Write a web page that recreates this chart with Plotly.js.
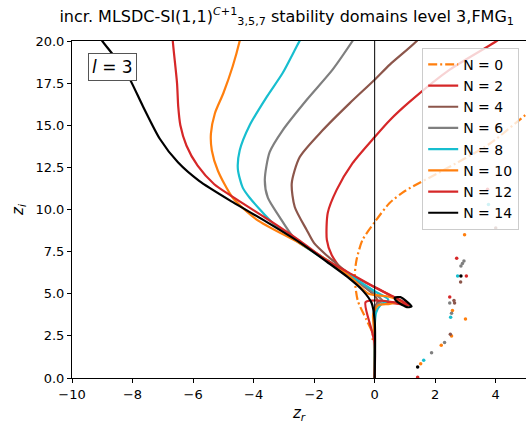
<!DOCTYPE html>
<html>
<head>
<meta charset="utf-8">
<script src="https://cdn.plot.ly/plotly-3.0.1.min.js"></script>
<style>html,body{margin:0;padding:0;background:#fff;}#chart{width:526px;height:425px;}</style>
</head>
<body>
<div id="chart"></div>
<script>
// Legend labels
const labels = ["N = 0", "N = 2", "N = 4", "N = 6", "N = 8", "N = 10", "N = 12", "N = 14"];
const colors = ["#ff7f0e", "#d62728", "#8c564b", "#7f7f7f", "#17becf", "#ff7f0e", "#d62728", "#000000"];

// Stability domain boundaries (z_r, z_i)
const n0_x = [5.3, 4.98, 3.8, 2.24, 1.0, 0.5, 0.0, -0.4, -0.6, -0.66, -0.56, -0.27, -0.07, -0.07];
const n0_y = [16.0, 15.6, 13.9, 12.3, 11.1, 10.4, 9.25, 8.2, 7.0, 6.0, 4.6, 3.45, 2.65, 2.25];

const n2_x = [4.4, 4.03, 2.48, 1.16, 0.5, 0.0, -0.73, -1.26, -1.55, -1.58, -1.42, -1.06, -0.4, 0.3, 0.75, 1.15, 0.6, 0.15, 0.02, 0.0, 0.0];
const n2_y = [20.5, 20.0, 18.3, 16.4, 15.3, 14.3, 12.75, 11.15, 9.8, 8.2, 7.3, 6.4, 5.75, 5.1, 4.65, 4.3, 4.45, 4.55, 4.2, 3.0, 0.0];

const n4_x = [1.6, 1.39, 0.5, 0.0, -0.83, -1.72, -2.48, -2.74, -2.64, -2.25, -2.0, -1.6, -1.0, -0.4, 0.0, 0.1, 0.0, 0.0];
const n4_y = [20.5, 20.0, 18.6, 17.7, 16.3, 14.7, 13.1, 11.55, 10.15, 8.8, 8.0, 7.3, 6.4, 5.5, 4.9, 4.5, 4.0, 0.0];

const n6_x = [-0.55, -0.73, -1.39, -2.25, -3.04, -3.47, -3.63, -3.53, -3.14, -2.7, -2.1, -1.4, -0.6, 0.0, 0.25, 0.05, 0.0, 0.0];
const n6_y = [20.5, 20.0, 18.3, 16.5, 14.7, 13.4, 11.75, 10.7, 9.55, 8.4, 7.6, 6.8, 5.8, 5.0, 4.6, 4.3, 3.5, 0.0];

const n8_x = [-2.3, -2.48, -3.04, -3.56, -4.13, -4.46, -4.52, -4.36, -4.13, -3.37, -2.48, -1.4, -0.6, 0.0, 0.45, 0.2, 0.05, 0.0, 0.0];
const n8_y = [20.5, 20.0, 18.1, 16.7, 15.0, 13.5, 12.4, 11.3, 10.7, 9.2, 8.0, 6.75, 5.85, 5.15, 4.65, 4.35, 3.9, 3.0, 0.0];

const n10_x = [-4.4, -4.46, -4.69, -5.0, -5.28, -5.41, -5.38, -5.18, -4.69, -3.9, -2.48, -1.5, -0.8, -0.2, 0.4, 0.9, 0.5, 0.1, -0.05, 0.0, 0.0];
const n10_y = [20.5, 20.0, 18.5, 16.9, 15.7, 14.5, 13.5, 12.3, 10.7, 9.4, 8.0, 6.9, 6.0, 5.0, 4.85, 4.55, 4.4, 4.3, 3.8, 2.5, 0.0];

const n12_x = [-6.68, -6.67, -6.53, -6.49, -6.42, -6.22, -5.85, -5.3, -4.69, -3.56, -2.48, -1.6, -0.9, 0.0, 0.6, 1.1, 0.6, 0.15, -0.3, -0.1, 0.0, 0.0];
const n12_y = [20.5, 20.0, 17.5, 16.1, 15.0, 13.8, 12.6, 11.5, 10.75, 9.45, 8.15, 7.0, 6.3, 5.4, 4.85, 4.35, 4.5, 4.6, 4.5, 2.85, 2.0, 0.0];

const n14_x = [-9.2, -9.0, -8.2, -7.65, -7.1, -6.5, -5.8, -4.7, -3.56, -2.48, -1.58, -0.9, -0.4, -0.1, 0.0, 0.0, null, 0.66, 0.85, 1.05, 1.22, 1.1, 0.9, 0.7, 0.66];
const n14_y = [20.5, 20.0, 18.1, 16.1, 14.2, 12.8, 11.7, 10.45, 9.25, 8.05, 6.9, 6.0, 5.2, 4.45, 3.4, 0.0, null, 4.75, 4.8, 4.55, 4.25, 4.2, 4.35, 4.6, 4.75];

// Isolated spurious points to the right
const dotsOrange_x = [2.97, 2.57, 3.0, 2.2, 1.52, 2.54];
const dotsOrange_y = [8.5, 4.0, 3.5, 1.95, 0.85, 2.5];
const dotsRed_x = [2.71, 2.48, 1.42, 3.03, 3.73];
const dotsRed_y = [7.1, 4.8, 0.05, 6.05, 11.2];
const dotsGray_x = [2.85, 2.9, 2.95, 2.48, 2.54, 2.31, 1.88];
const dotsGray_y = [6.65, 6.8, 6.95, 4.45, 3.85, 2.1, 1.5];
const dotsCyan_x = [2.74, 2.51, 1.62, 3.76];
const dotsCyan_y = [6.05, 3.6, 1.05, 10.3];
const dotsBrown_x = [2.84, 2.64, 2.5, 4.0, 2.62];
const dotsBrown_y = [5.7, 4.45, 2.6, 8.9, 4.6];
const dotsBlack_x = [2.85, 1.42];
const dotsBlack_y = [6.05, 0.65];

const xTicks = [-10, -8, -6, -4, -2, 0, 2, 4];
const yTicks = [0, 2.5, 5, 7.5, 10, 12.5, 15, 17.5, 20];

const curvesX = [n0_x, n2_x, n4_x, n6_x, n8_x, n10_x, n12_x, n14_x];
const curvesY = [n0_y, n2_y, n4_y, n6_y, n8_y, n10_y, n12_y, n14_y];

const traces = [];
for (let i = 0; i < labels.length; i++) {
  traces.push({
    x: curvesX[i], y: curvesY[i], name: labels[i], mode: 'lines', type: 'scatter',
    line: {color: colors[i], width: 2.2, shape: 'spline', smoothing: 0.7,
           dash: i === 0 ? '9px,3px,2px,3px' : 'solid'},
    connectgaps: false
  });
}
const dotSets = [
  [dotsOrange_x, dotsOrange_y, '#ff7f0e'],
  [dotsRed_x, dotsRed_y, '#d62728'],
  [dotsGray_x, dotsGray_y, '#7f7f7f'],
  [dotsCyan_x, dotsCyan_y, '#17becf'],
  [dotsBrown_x, dotsBrown_y, '#8c564b'],
  [dotsBlack_x, dotsBlack_y, '#000000']
];
dotSets.forEach(d => traces.push({
  x: d[0], y: d[1], mode: 'markers', type: 'scatter', showlegend: false,
  marker: {color: d[2], size: 3.5}
}));

const font = {family: 'DejaVu Sans, sans-serif', color: '#000'};
const layout = {
  width: 526, height: 425,
  margin: {l: 72, r: 0, t: 41, b: 47, pad: 0},
  paper_bgcolor: '#fff', plot_bgcolor: '#fff',
  font: Object.assign({size: 13}, font),
  title: {
    text: 'incr. MLSDC-SI(1,1)<sup><i>C</i>+1</sup><sub>3,5,7</sub> stability domains level 3,FMG<sub>1</sub>',
    font: Object.assign({size: 16}, font), x: 0.545, xanchor: 'center', y: 0.962, yanchor: 'middle'
  },
  xaxis: {
    range: [-10, 5], tickvals: xTicks, ticks: 'outside', ticklen: 4, tickcolor: '#000',
    showline: true, linecolor: '#000', linewidth: 1, mirror: true, showgrid: false, zeroline: false,
    tickfont: Object.assign({size: 13}, font),
    title: {text: '<i>z</i><sub><i>r</i></sub>', font: Object.assign({size: 15}, font), standoff: 6}
  },
  yaxis: {
    range: [0, 20], tickvals: yTicks, tickformat: '.1f', ticks: 'outside', ticklen: 4, tickcolor: '#000',
    showline: true, linecolor: '#000', linewidth: 1, showgrid: false, zeroline: false,
    tickfont: Object.assign({size: 13}, font),
    title: {text: '<i>z</i><sub><i>i</i></sub>', font: Object.assign({size: 15}, font), standoff: 8}
  },
  shapes: [{type: 'line', xref: 'x', yref: 'paper', x0: 0, x1: 0, y0: 0, y1: 1,
            line: {color: '#000', width: 1}, layer: 'above'}],
  annotations: [{
    xref: 'paper', yref: 'paper', x: 0.090, y: 0.923, xanchor: 'center', yanchor: 'middle',
    text: '<i>l</i> = 3', showarrow: false, font: Object.assign({size: 17}, font),
    bgcolor: '#fff', bordercolor: '#555', borderwidth: 1, borderpad: 3
  }],
  legend: {
    x: 0.985, y: 0.98, xanchor: 'right', yanchor: 'top',
    bgcolor: 'rgba(255,255,255,0.8)', bordercolor: '#cccccc', borderwidth: 1,
    font: Object.assign({size: 14}, font), itemwidth: 30, tracegroupgap: 0
  },
  showlegend: true
};
Plotly.newPlot('chart', traces, layout, {displayModeBar: false, staticPlot: true});
</script>
</body>
</html>
